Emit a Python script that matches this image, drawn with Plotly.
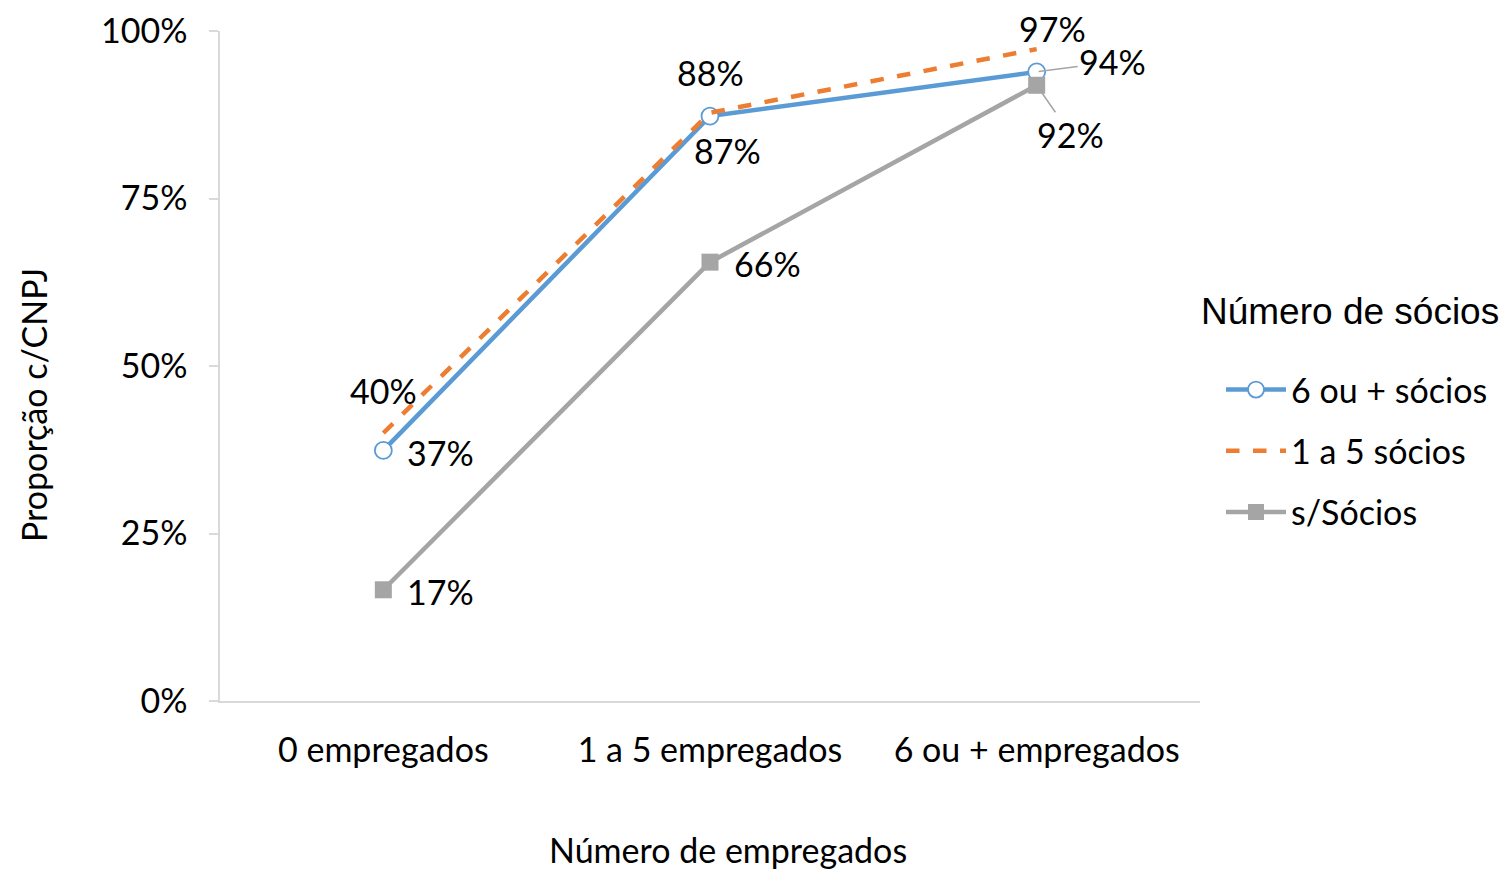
import plotly.graph_objects as go

categories = ["0 empregados", "1 a 5 empregados", "6 ou + empregados"]
series_names = ["6 ou + sócios", "1 a 5 sócios", "s/Sócios"]
seis_ou_mais = [0.374, 0.873, 0.939]
um_a_cinco = [0.40, 0.878, 0.973]
sem_socios = [0.166, 0.655, 0.919]
y_ticks = [0, 0.25, 0.5, 0.75, 1.0]
y_tick_labels = ["0%", "25%", "50%", "75%", "100%"]

FONT = "Lato"
FS = 34
BLUE = "#5B9BD5"
ORANGE = "#ED7D31"
GRAY = "#A5A5A5"
AXIS = "#D9D9D9"
W, H = 1503, 870

fig = go.Figure()
fig.add_trace(go.Scatter(
    x=categories, y=seis_ou_mais, name=series_names[0], mode="lines+markers",
    line=dict(color=BLUE, width=4.5),
    marker=dict(symbol="circle", size=17, color="white", line=dict(color=BLUE, width=1.8)),
    legendgroup="a"))
fig.add_trace(go.Scatter(
    x=categories, y=um_a_cinco, name=series_names[1], mode="lines",
    line=dict(color=ORANGE, width=4.5, dash="dash"), legendgroup="b"))
fig.add_trace(go.Scatter(
    x=categories, y=sem_socios, name=series_names[2], mode="lines+markers",
    line=dict(color=GRAY, width=4.5),
    marker=dict(symbol="square", size=17, color=GRAY), legendgroup="c"))

def pct(v):
    return f"{round(v * 100):d}%"

label_specs = [
    # (series values, index, xshift, yshift)
    (seis_ou_mais, 0, 57, -2),
    (seis_ou_mais, 1, 17, -34),
    (um_a_cinco, 0, 0, 43),
    (um_a_cinco, 1, 0, 40),
    (um_a_cinco, 2, 16, 21),
    (sem_socios, 0, 57, -2),
    (sem_socios, 1, 57, -1),
]
for vals, i, xs, ys in label_specs:
    fig.add_annotation(x=categories[i], y=vals[i], text=pct(vals[i]), showarrow=False,
                       xshift=xs, yshift=ys, font=dict(family=FONT, size=FS, color="black"))

# labels with leader lines
fig.add_annotation(x=categories[2], y=seis_ou_mais[2], text=pct(seis_ou_mais[2]), showarrow=True,
                   arrowhead=0, arrowwidth=1.5, arrowcolor=GRAY, ax=76, ay=-10, standoff=2,
                   font=dict(family=FONT, size=FS, color="black"))
fig.add_annotation(x=categories[2], y=sem_socios[2], text=pct(sem_socios[2]), showarrow=True,
                   arrowhead=0, arrowwidth=1.5, arrowcolor=GRAY, ax=34, ay=49, standoff=6,
                   font=dict(family=FONT, size=FS, color="black"))

PT, PB = 31, 701  # plot area top/bottom in px
PH = PB - PT

# axis titles
fig.add_annotation(xref="paper", yref="paper", x=(728 - 220) / 980, y=(PB - 849) / PH,
                   xanchor="center", yanchor="middle",
                   text="Número de empregados", showarrow=False,
                   font=dict(family=FONT, size=FS, color="black"))
fig.add_annotation(xref="paper", yref="paper", x=(33 - 220) / 980, y=(PB - 405) / PH,
                   xanchor="center", yanchor="middle",
                   text="Proporção c/CNPJ", showarrow=False, textangle=-90,
                   font=dict(family=FONT, size=FS, color="black"))
# legend title
fig.add_annotation(xref="paper", yref="paper", x=(1199 - 220) / 980, y=(PB - 312) / PH,
                   xanchor="left", yanchor="middle", text="Número de sócios", showarrow=False,
                   font=dict(family="Liberation Sans", size=37, color="black"))

fig.update_layout(
    width=W, height=H,
    margin=dict(l=220, r=303, t=PT, b=H - PB),
    paper_bgcolor="white", plot_bgcolor="white",
    font=dict(family=FONT, size=FS, color="black"),
    showlegend=True,
    legend=dict(xref="container", yref="container", x=1221 / W, y=1 - 361 / H,
                xanchor="left", yanchor="top",
                font=dict(family=FONT, size=FS), tracegroupgap=14, itemwidth=60,
                bgcolor="rgba(0,0,0,0)"),
)
fig.update_xaxes(
    type="category", range=[-0.5, 2.5], showgrid=False, zeroline=False, automargin=False,
    showline=True, linecolor=AXIS, linewidth=1.5, ticks="",
    ticklabelstandoff=18, tickfont=dict(family=FONT, size=FS),
)
fig.update_yaxes(
    range=[0, 1], tickvals=y_ticks, ticktext=y_tick_labels, showgrid=False, zeroline=False,
    automargin=False,
    showline=True, linecolor=AXIS, linewidth=1.5, ticks="outside", ticklen=9,
    tickcolor=AXIS, tickwidth=1.5, ticklabelstandoff=15, tickfont=dict(family=FONT, size=FS),
)

fig.write_html("out.html", post_script="document.body.style.margin='0';",
               config={"displayModeBar": False})
